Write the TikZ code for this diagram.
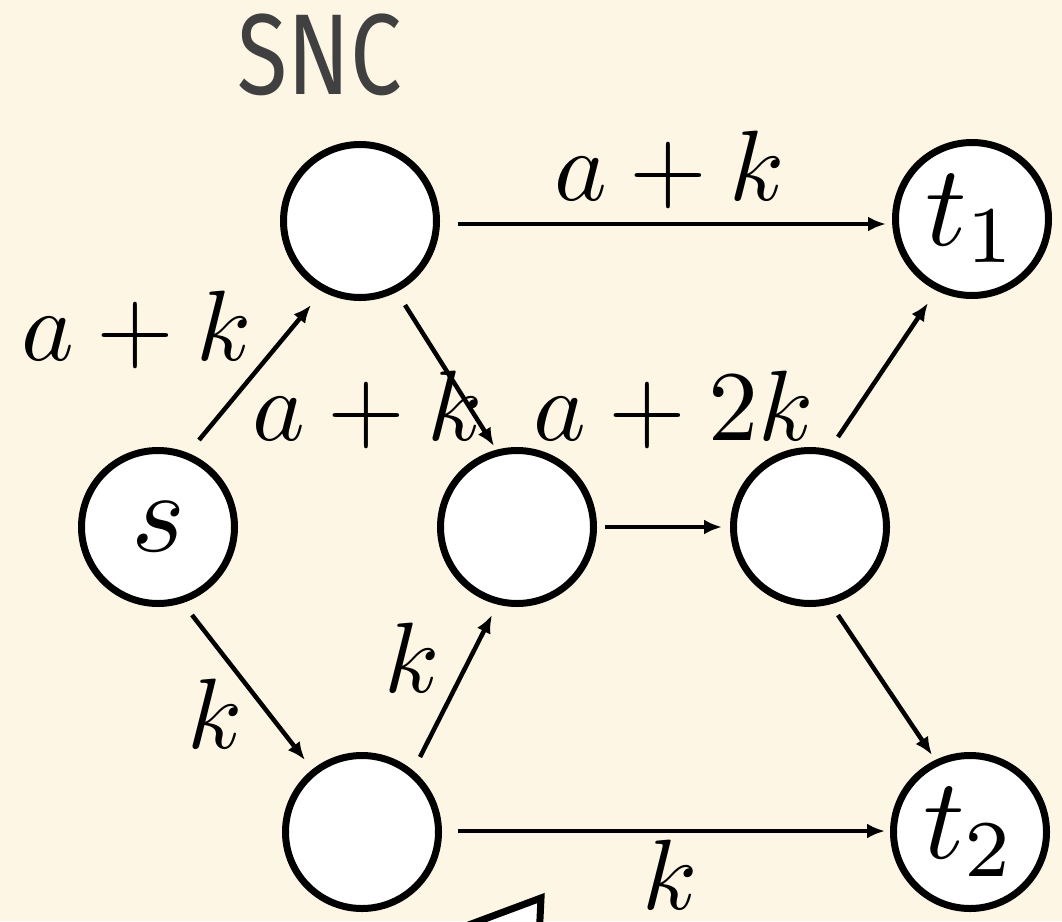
\documentclass[tikz,border=0pt]{standalone}
\usepackage{fontspec}
\newfontfamily\titlefont{Fira Sans}
\usetikzlibrary{calc,arrows.meta}
\definecolor{bg}{RGB}{254,246,228}
\definecolor{titlegray}{RGB}{64,64,64}
\begin{document}
\begin{tikzpicture}[x=1pt,y=-1pt,
  vert/.style={circle,draw=black,line width=7pt,fill=white,minimum size=153pt,inner sep=0pt},
  vlab/.style={scale=11.5},
  lab/.style={scale=10,inner sep=0pt,anchor=base},
  arr/.style={line width=4.5pt,-{Latex[length=18pt,width=15pt]}},
]
\fill[bg] (0,0) rectangle (1062,921);
\useasboundingbox (0,0) rectangle (1062,921);
\clip (0,0) rectangle (1062,921);

\node[text=titlegray,anchor=base,inner sep=0pt,xscale=0.8] (title) at (320,94) {\titlefont\fontsize{115}{130}\selectfont SNC};

\node[vert] (s) at (158,527) {};
\node[vert] (A) at (360,221) {};
\node[vert] (B) at (517,527) {};
\node[vert] (C) at (810,527) {};
\node[vert] (D) at (362,832) {};
\node[vert] (t1) at (972,219) {};
\node[vert] (t2) at (970,832) {};
\node[vlab] (sl) at (s) {$s$};
\node[vlab] (t1l) at (t1) {$t_1$};
\node[vlab] (t2l) at (t2) {$t_2$};

\draw[arr] ($(s)+(41,-87)$) -- ($(A)+(-49,84)$);
\draw[arr] ($(A)+(45,84)$) -- ($(B)+(-23,-81)$);
\draw[arr] ($(A)+(98,3)$) -- ($(t1)+(-86,5)$);
\draw[arr] ($(B)+(88,0)$) -- ($(C)+(-88,0)$);
\draw[arr] ($(C)+(28,-90)$) -- ($(t1)+(-44,84)$);
\draw[arr] ($(C)+(28,88)$) -- ($(t2)+(-38,-77)$);
\draw[arr] ($(s)+(34,88)$) -- ($(D)+(-57,-72)$);
\draw[arr] ($(D)+(58,-75)$) -- ($(B)+(-25,88)$);
\draw[arr] ($(D)+(96,-1)$) -- ($(t2)+(-85,-1)$);

\node[lab] (l1) at (670,200) {$a+k$};
\node[lab] (l2) at (137,360) {$a+k$};
\node[lab] (l3) at (368,440) {$a+k$};
\node[lab] (l4) at (674,440) {$a+2k$};
\node[lab] (l5) at (215,748) {$k$};
\node[lab] (l6) at (412,692) {$k$};
\node[lab] (l7) at (670,909) {$k$};

\draw[line width=7pt,fill=white,line join=miter] (380,958) -- (541,898) -- (538,960);
\end{tikzpicture}
\end{document}
